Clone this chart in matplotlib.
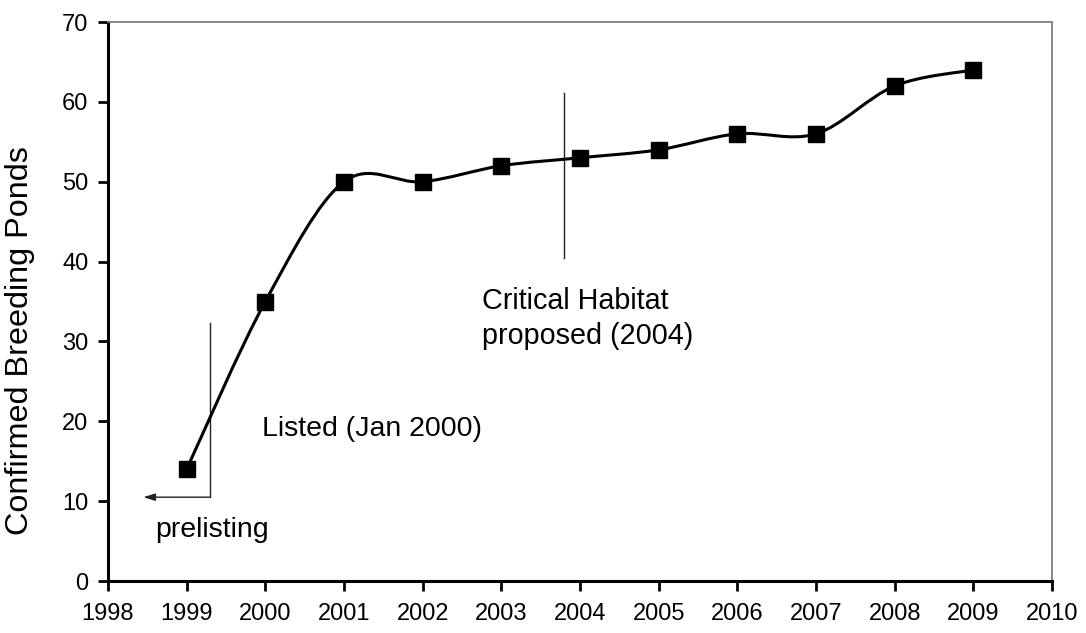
import numpy as np
import matplotlib
matplotlib.use("Agg")
import matplotlib.pyplot as plt
from matplotlib.path import Path
from matplotlib.patches import PathPatch

plt.rcParams["font.family"] = ["Liberation Sans", "DejaVu Sans"]

# data
years = [1999, 2000, 2001, 2002, 2003, 2004, 2005, 2006, 2007, 2008, 2009]
ponds = [14, 35, 50, 50, 52, 53, 54, 56, 56, 62, 64]

listing_year = 1999.3
listing_span = (10.5, 32.3)
prelist_arrow_end = 1998.45
habitat_year = 2003.8
habitat_span = (40.5, 61.1)


def smooth_path(xs, ys):
    """Excel-style smoothed line: cubic Bezier segments (Catmull-Rom)."""
    pts = np.column_stack([xs, ys]).astype(float)
    padded = np.vstack([pts[0], pts, pts[-1]])
    verts = [pts[0]]
    codes = [Path.MOVETO]
    for i in range(len(pts) - 1):
        p0, p1, p2, p3 = padded[i], padded[i + 1], padded[i + 2], padded[i + 3]
        c1 = p1 + (p2 - p0) / 6.0
        c2 = p2 - (p3 - p1) / 6.0
        verts += [c1, c2, p2]
        codes += [Path.CURVE4] * 3
    return Path(verts, codes)


fig = plt.figure(figsize=(10.86, 6.33), dpi=100)
ax = fig.add_axes([0.0994, 0.0821, 0.8693, 0.8831])

ax.add_patch(PathPatch(smooth_path(years, ponds), facecolor="none",
                       edgecolor="black", lw=2.2, zorder=3))
ax.plot(years, ponds, linestyle="none", marker="s", ms=12,
        color="black", zorder=4)

# listing marker and prelisting arrow
ax.plot([listing_year, listing_year], listing_span, color="#222222", lw=1.0)
ax.annotate("", xy=(prelist_arrow_end, listing_span[0]),
            xytext=(listing_year, listing_span[0]),
            arrowprops=dict(arrowstyle="-|>,head_length=0.7,head_width=0.22",
                            color="#222222", lw=1.0, shrinkA=0, shrinkB=0))
ax.plot([habitat_year, habitat_year], habitat_span, color="#222222", lw=1.0)

ax.text(1999.96, 19.1, "Listed (Jan 2000)", fontsize=20.5, va="center", ha="left")
ax.text(1998.6, 6.4, "prelisting", fontsize=20.5, va="center", ha="left")
ax.text(2002.75, 32.9, "Critical Habitat\nproposed (2004)", fontsize=20.7,
        va="center", ha="left", linespacing=1.3)

ax.set_xlim(1998, 2010)
ax.set_ylim(0, 70)
ax.set_xticks(range(1998, 2011))
ax.set_yticks(range(0, 71, 10))
ax.tick_params(direction="out", length=7, width=2, labelsize=17, colors="black")
ax.tick_params(axis="y", pad=7)
ax.tick_params(axis="x", pad=9)

for side in ("left", "bottom"):
    ax.spines[side].set_linewidth(2.2)
    ax.spines[side].set_color("black")
for side in ("top", "right"):
    ax.spines[side].set_linewidth(1.3)
    ax.spines[side].set_color("#808080")

ax.set_ylabel("Confirmed Breeding Ponds", fontsize=23.3)
ax.yaxis.set_label_coords(-0.077, 0.431)

fig.savefig("out.png", dpi=100)
